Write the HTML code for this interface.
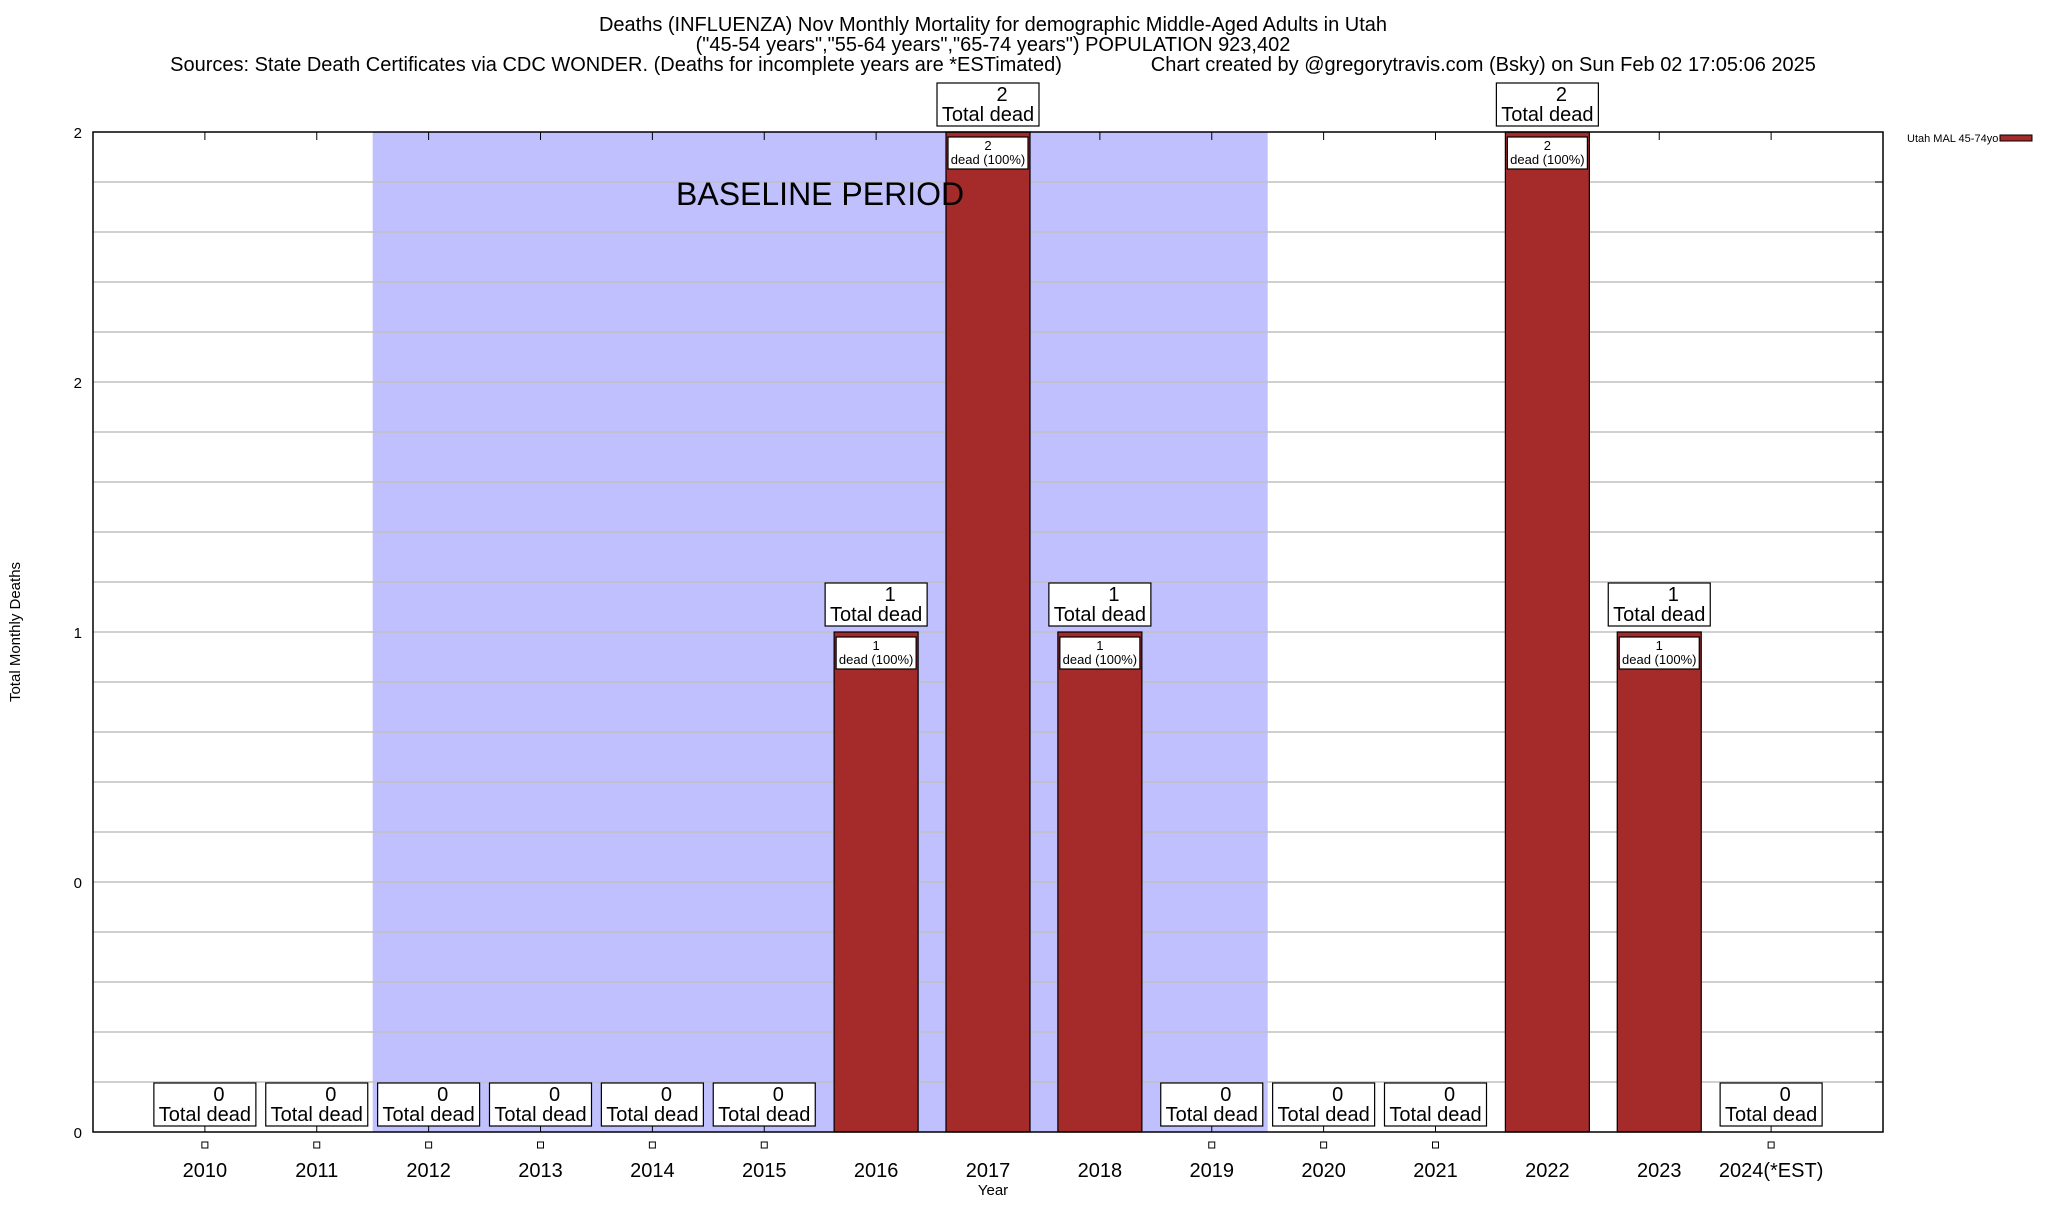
<!DOCTYPE html>
<html><head><meta charset="utf-8"><style>
body{margin:0;background:#fff;width:2048px;height:1200px;overflow:hidden}
svg text{font-family:"Liberation Sans",sans-serif;fill:#000}
</style></head><body>
<svg width="2048" height="1200" xmlns="http://www.w3.org/2000/svg" id="chart">
<text x="993" y="31" font-size="20" text-anchor="middle">Deaths (INFLUENZA) Nov Monthly Mortality for demographic Middle-Aged Adults in Utah</text>
<text x="993" y="51" font-size="20" text-anchor="middle">("45-54 years","55-64 years","65-74 years") POPULATION 923,402</text>
<text x="993" y="71" font-size="20" text-anchor="middle" xml:space="preserve" style="white-space:pre">Sources: State Death Certificates via CDC WONDER. (Deaths for incomplete years are *ESTimated)                Chart created by @gregorytravis.com (Bsky) on Sun Feb 02 17:05:06 2025</text>
<g id="plot"></g>
<text transform="translate(20,632) rotate(-90)" font-size="15" text-anchor="middle">Total Monthly Deaths</text>
<text x="993" y="1195" font-size="15" text-anchor="middle">Year</text>
<text x="1907" y="142" font-size="11">Utah MAL 45-74yo</text>
<rect x="2000" y="135" width="32" height="6" fill="#a52a2a" stroke="#000" stroke-width="1"/>
</svg>
<script>
const years=["2010","2011","2012","2013","2014","2015","2016","2017","2018","2019","2020","2021","2022","2023","2024(*EST)"];
const deaths=[0,0,0,0,0,0,1,2,1,0,0,0,2,1,0];
const yTickValues=[0,0.5,1,1.5,2];
const yTickLabels=["0","0","1","2","2"];
const baselineStart=2,baselineEnd=9;
const L=93,R=1883,T=132,B=1132,yMax=2;
const NS="http://www.w3.org/2000/svg";
const g=document.getElementById('plot');
const step=(R-L)/(years.length+1);
const xPos=i=>L+(i+1)*step;
const yPos=v=>B-(v/yMax)*(B-T);
function mk(tag,attrs,parent){const e=document.createElementNS(NS,tag);for(const k in attrs)e.setAttribute(k,attrs[k]);(parent||g).appendChild(e);return e;}
const bg=mk('rect',{x:L,y:T,width:R-L,height:B-T,fill:'#fff'});


const sh=mk('rect',{x:xPos(baselineStart-0.5),y:T,width:xPos(baselineEnd+0.5)-xPos(baselineStart-0.5),height:B-T,fill:'#c0c0ff'});


for(let k=1;k<20;k++){const v=k*yMax/20;const ln=mk('line',{x1:L,x2:R,y1:yPos(v),y2:yPos(v),stroke:'#c0c0c0','stroke-width':1.5});


mk('line',{x1:R-8,x2:R,y1:yPos(v),y2:yPos(v),stroke:'#000'});}
const bw=84;
years.forEach((yr,i)=>{
 const cx=xPos(i),v=deaths[i],top=yPos(v);
 mk('line',{x1:cx,x2:cx,y1:T,y2:T+8,stroke:'#000'});
 mk('line',{x1:cx,x2:cx,y1:B-8,y2:B,stroke:'#000'});
 if(v>0){
  const b=mk('rect',{x:cx-bw/2,y:top,width:bw,height:B-top,fill:'#a52a2a',stroke:'#000','stroke-width':1.2});
  
  
  const ib=mk('rect',{x:cx-40,y:top+5,width:80,height:32,fill:'#fff',stroke:'#000','stroke-width':1.2});
  
  
  const t1=mk('text',{x:cx,y:top+18,'font-size':13,'text-anchor':'middle'});t1.textContent=v;
  const t2=mk('text',{x:cx,y:top+32,'font-size':13,'text-anchor':'middle'});t2.textContent='dead (100%)';
 }
 const bb=Math.min(top-6,1126);
 const box=mk('rect',{x:cx-51,y:bb-43,width:102,height:43,fill:'#fff',stroke:'#000','stroke-width':1.2});
 
 
 const a=mk('text',{x:cx+14,y:bb-25,'font-size':20,'text-anchor':'middle'});a.textContent=v;
 const c=mk('text',{x:cx,y:bb-5,'font-size':20,'text-anchor':'middle'});c.textContent='Total dead';
 if(v===0){const m=mk('rect',{x:cx-3,y:1142,width:6,height:6,fill:'#fff',stroke:'#000'});}
 const xl=mk('text',{x:cx,y:1177,'font-size':20,'text-anchor':'middle'});xl.textContent=yr;
 
 
});
const bl=mk('text',{x:676,y:205,'font-size':32});bl.textContent='BASELINE PERIOD';


yTickValues.forEach((v,i)=>{
 const t=mk('text',{x:82,y:yPos(v)+6,'font-size':15,'text-anchor':'end'});t.textContent=yTickLabels[i];
 
 
});
const fr=mk('rect',{x:L,y:T,width:R-L,height:B-T,fill:'none',stroke:'#000','stroke-width':1.5});


</script>
</body></html>
